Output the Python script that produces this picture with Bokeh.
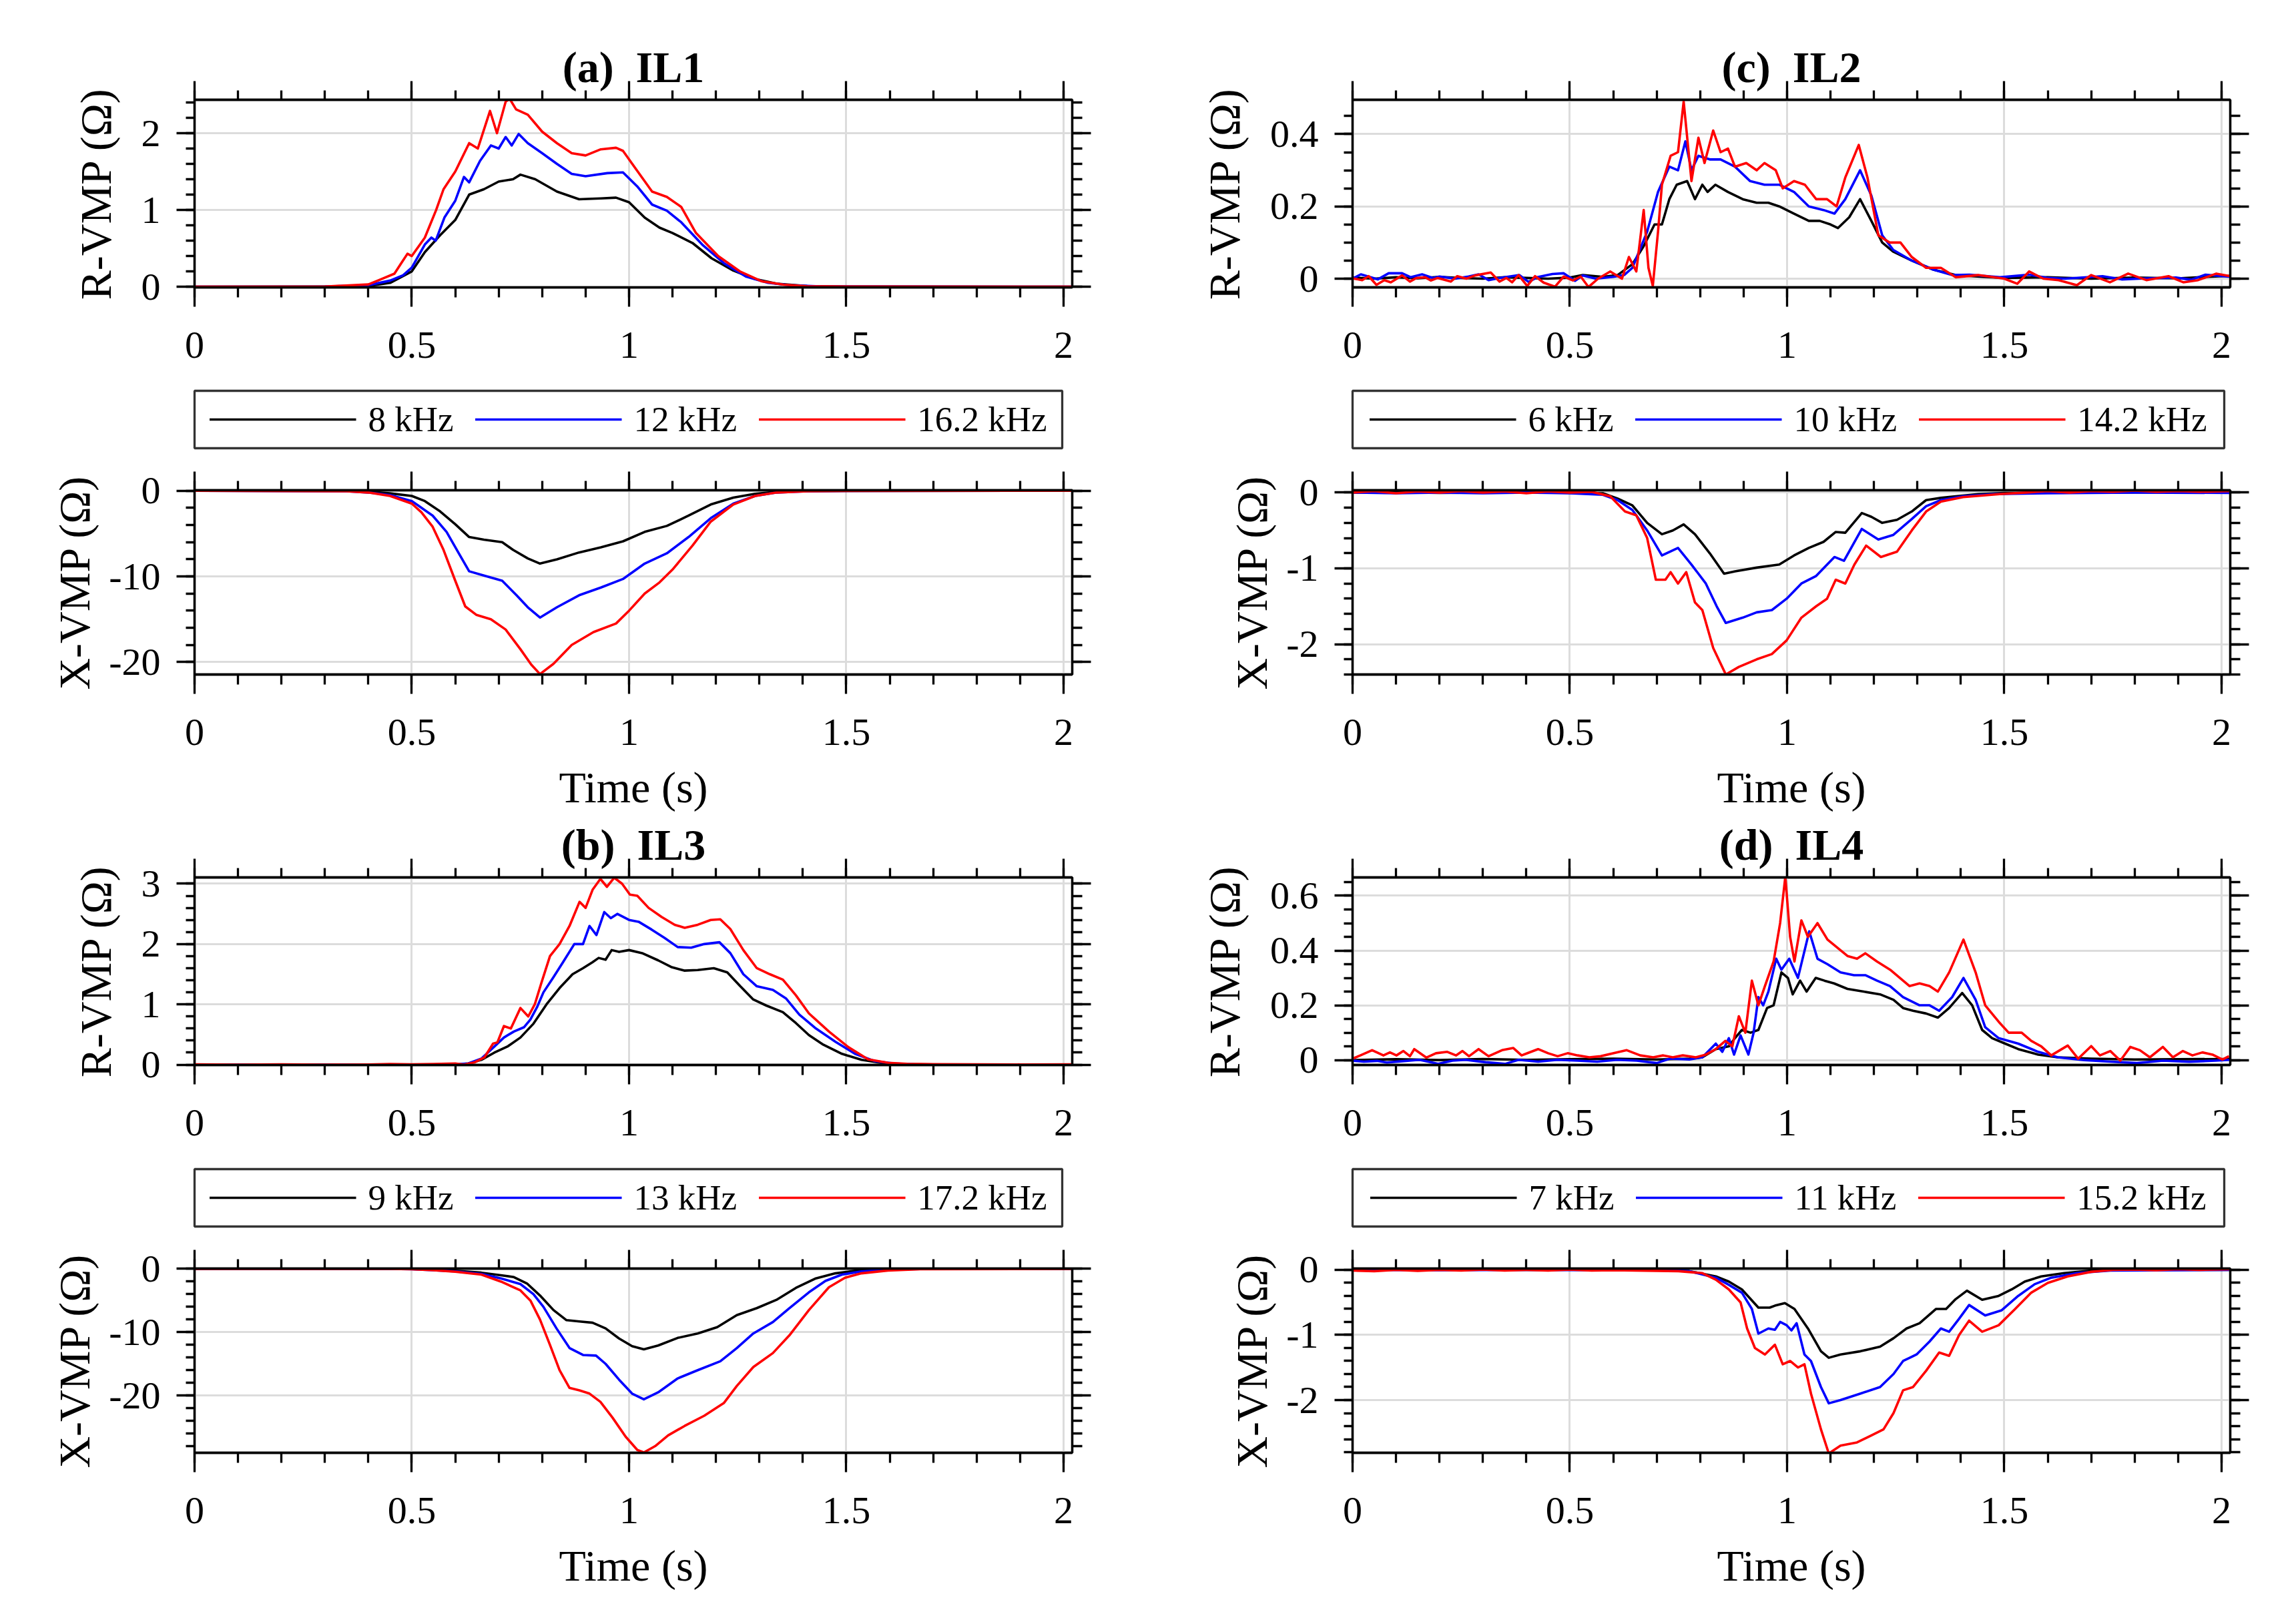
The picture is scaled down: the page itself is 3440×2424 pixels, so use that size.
from bokeh.plotting import figure
from bokeh.models import (Range1d, LinearAxis, SingleIntervalTicker, CustomJSTickFormatter,
                          Legend, LegendItem, Grid)
from bokeh.layouts import column, row
from bokeh.core.properties import value
from bokeh.embed import file_html
from bokeh.resources import INLINE

# ---------------- data ----------------
titles = ["(a) \u00a0IL1", "(c) \u00a0IL2", "(b) \u00a0IL3", "(d) \u00a0IL4"]
legend_a = ["8 kHz", "12 kHz", "16.2 kHz"]
legend_c = ["6 kHz", "10 kHz", "14.2 kHz"]
legend_b = ["9 kHz", "13 kHz", "17.2 kHz"]
legend_d = ["7 kHz", "11 kHz", "15.2 kHz"]
r_label = "R-VMP (\u03a9)"
x_label = "X-VMP (\u03a9)"
time_label = "Time (s)"

# panel (a) IL1, R
aR_k_t = [0, 0.3, 0.4, 0.45, 0.5, 0.53, 0.565, 0.6, 0.632, 0.666, 0.7, 0.733, 0.75, 0.784, 0.834, 0.885, 0.935, 0.97, 1.0, 1.036, 1.07, 1.1, 1.146, 1.19, 1.24, 1.29, 1.34, 1.41, 1.5, 2.02]
aR_k_v = [0, 0.002, 0.01, 0.05, 0.2, 0.45, 0.67, 0.87, 1.2, 1.27, 1.37, 1.4, 1.46, 1.4, 1.24, 1.14, 1.15, 1.16, 1.1, 0.9, 0.77, 0.7, 0.57, 0.37, 0.21, 0.1, 0.04, 0.01, 0.002, 0]
aR_b_t = [0, 0.3, 0.4, 0.45, 0.48, 0.5, 0.53, 0.545, 0.555, 0.575, 0.6, 0.62, 0.632, 0.657, 0.682, 0.7, 0.716, 0.73, 0.746, 0.767, 0.8, 0.834, 0.868, 0.9, 0.95, 0.986, 1.02, 1.053, 1.087, 1.12, 1.17, 1.22, 1.27, 1.32, 1.37, 1.44, 1.5, 2.02]
aR_b_v = [0, 0.003, 0.02, 0.08, 0.15, 0.25, 0.55, 0.64, 0.6, 0.9, 1.12, 1.43, 1.36, 1.64, 1.84, 1.8, 1.95, 1.84, 1.99, 1.87, 1.74, 1.6, 1.47, 1.44, 1.48, 1.49, 1.3, 1.07, 0.99, 0.84, 0.54, 0.3, 0.13, 0.05, 0.02, 0.005, 0.002, 0]
aR_r_t = [0, 0.3, 0.4, 0.43, 0.46, 0.475, 0.49, 0.5, 0.53, 0.556, 0.573, 0.6, 0.632, 0.652, 0.68, 0.696, 0.716, 0.725, 0.74, 0.767, 0.8, 0.834, 0.868, 0.9, 0.935, 0.97, 0.986, 1.02, 1.053, 1.087, 1.12, 1.154, 1.205, 1.255, 1.306, 1.356, 1.407, 1.5, 2.02]
aR_r_v = [0, 0.003, 0.03, 0.1, 0.17, 0.3, 0.43, 0.4, 0.64, 1.0, 1.27, 1.5, 1.87, 1.8, 2.29, 2.0, 2.41, 2.45, 2.31, 2.24, 2.02, 1.87, 1.74, 1.71, 1.79, 1.81, 1.77, 1.5, 1.24, 1.17, 1.04, 0.70, 0.40, 0.2, 0.07, 0.027, 0.007, 0.002, 0]

# panel (a) IL1, X
aX_k_t = [0, 0.35, 0.4, 0.45, 0.5, 0.53, 0.565, 0.6, 0.632, 0.666, 0.708, 0.733, 0.767, 0.795, 0.834, 0.885, 0.935, 0.986, 1.036, 1.087, 1.137, 1.188, 1.24, 1.29, 1.34, 1.41, 1.5, 2.02]
aX_k_v = [0, -0.02, -0.1, -0.3, -0.6, -1.2, -2.4, -3.9, -5.4, -5.7, -6.0, -6.9, -7.9, -8.5, -8.0, -7.2, -6.6, -5.9, -4.8, -4.1, -2.9, -1.6, -0.8, -0.35, -0.12, -0.03, -0.005, 0]
aX_b_t = [0, 0.35, 0.4, 0.45, 0.5, 0.514, 0.548, 0.58, 0.607, 0.632, 0.666, 0.708, 0.741, 0.767, 0.795, 0.834, 0.885, 0.935, 0.986, 1.036, 1.087, 1.137, 1.188, 1.24, 1.29, 1.34, 1.41, 1.5, 2.02]
aX_b_v = [0, -0.05, -0.2, -0.5, -1.2, -1.7, -2.9, -4.8, -7.2, -9.4, -9.9, -10.5, -12.2, -13.6, -14.8, -13.6, -12.2, -11.3, -10.3, -8.5, -7.3, -5.4, -3.2, -1.5, -0.6, -0.2, -0.05, -0.01, 0]
aX_r_t = [0, 0.35, 0.4, 0.45, 0.5, 0.522, 0.548, 0.573, 0.6, 0.623, 0.649, 0.682, 0.716, 0.75, 0.775, 0.795, 0.826, 0.868, 0.918, 0.97, 1.0, 1.036, 1.07, 1.1, 1.146, 1.188, 1.24, 1.29, 1.34, 1.41, 1.5, 2.02]
aX_r_v = [0, -0.05, -0.2, -0.6, -1.5, -2.5, -4.2, -6.9, -10.5, -13.5, -14.5, -15.0, -16.2, -18.5, -20.3, -21.4, -20.2, -18.0, -16.5, -15.5, -14.0, -12.0, -10.7, -9.2, -6.4, -3.6, -1.6, -0.6, -0.2, -0.05, -0.01, 0]

# panel (c) IL2, R
cR_k_t = [0, 0.05, 0.1, 0.15, 0.2, 0.25, 0.3, 0.35, 0.4, 0.45, 0.5, 0.53, 0.576, 0.61, 0.644, 0.67, 0.695, 0.712, 0.729, 0.746, 0.77, 0.788, 0.805, 0.817, 0.835, 0.864, 0.898, 0.93, 0.957, 0.982, 1.016, 1.05, 1.075, 1.1, 1.117, 1.143, 1.168, 1.194, 1.219, 1.244, 1.287, 1.337, 1.388, 1.45, 1.5, 1.6, 1.7, 1.8, 1.9, 1.95, 2.02]
cR_k_v = [0.003, 0.0, 0.004, 0.001, 0.005, 0.002, 0.0, 0.004, 0.002, 0.0, 0.003, 0.01, 0.005, 0.01, 0.04, 0.09, 0.15, 0.15, 0.22, 0.26, 0.27, 0.22, 0.26, 0.24, 0.26, 0.24, 0.22, 0.21, 0.21, 0.2, 0.18, 0.16, 0.16, 0.15, 0.14, 0.17, 0.22, 0.16, 0.1, 0.075, 0.05, 0.025, 0.01, 0.005, 0.002, 0.004, 0.0, 0.003, 0.001, 0.004, 0.008]
cR_b_t = [0, 0.019, 0.058, 0.083, 0.114, 0.134, 0.16, 0.185, 0.2, 0.236, 0.267, 0.29, 0.313, 0.338, 0.384, 0.405, 0.425, 0.46, 0.486, 0.512, 0.53, 0.56, 0.6, 0.625, 0.644,
          0.678, 0.703, 0.729, 0.749, 0.766, 0.78, 0.796, 0.822, 0.847, 0.88, 0.915, 0.948, 0.982, 1.016, 1.05, 1.084, 1.109, 1.134, 1.168, 1.194, 1.219, 1.244, 1.287, 1.337, 1.38,
          1.42, 1.49, 1.557, 1.6, 1.64, 1.726, 1.77, 1.81, 1.895, 1.93, 1.963, 2.02]
cR_b_v = [0.0, 0.012, -0.002, 0.015, 0.015, 0.004, 0.012, 0.002, 0.006, 0.0, 0.006, 0.012, -0.004, 0.002, 0.01, -0.009, 0.004, 0.013, 0.015, -0.006, 0.009, 0.0, 0.005, 0.01, 0.03,
          0.13, 0.24, 0.31, 0.3, 0.38, 0.3, 0.34, 0.33, 0.33, 0.31, 0.27, 0.26, 0.26, 0.24, 0.2, 0.19, 0.18, 0.22, 0.3, 0.23, 0.12, 0.08, 0.05, 0.025, 0.01,
          0.011, 0.004, 0.011, 0.002, 0.0, 0.007, -0.002, 0.0, 0.003, -0.003, 0.011, 0.005]
cR_r_t = [0, 0.022, 0.037, 0.055, 0.073, 0.088, 0.114, 0.132, 0.147, 0.167, 0.18, 0.196, 0.226, 0.241, 0.262, 0.282, 0.318, 0.338, 0.354, 0.367, 0.382, 0.402, 0.42, 0.44, 0.466, 0.486, 0.507, 0.525, 0.543, 0.565, 0.593, 0.62, 0.636, 0.653, 0.67, 0.681, 0.691, 0.703,
          0.712, 0.732, 0.749, 0.762, 0.78, 0.796, 0.81, 0.83, 0.847, 0.864, 0.88, 0.906, 0.93, 0.948, 0.974, 0.99, 1.016, 1.041, 1.067, 1.092, 1.114, 1.134, 1.165, 1.185, 1.21, 1.236, 1.261, 1.287, 1.32, 1.354,
          1.388, 1.44, 1.5, 1.53, 1.557, 1.59, 1.625, 1.667, 1.7, 1.743, 1.785, 1.827, 1.878, 1.912, 1.946, 1.988, 2.02]
cR_r_v = [0.001, -0.004, 0.007, -0.017, -0.004, -0.01, 0.009, -0.008, 0.002, 0.004, -0.005, 0.002, -0.008, 0.007, 0.0, 0.009, 0.017, -0.008, 0.002, -0.01, 0.01, -0.02, 0.007, -0.011, -0.022, 0.006, -0.005, 0.006, -0.023, 0.0, 0.02, 0.0, 0.06, 0.02, 0.19, 0.03, -0.02, 0.13,
          0.26, 0.34, 0.35, 0.49, 0.27, 0.39, 0.32, 0.41, 0.35, 0.36, 0.31, 0.32, 0.3, 0.32, 0.3, 0.25, 0.27, 0.26, 0.22, 0.22, 0.2, 0.28, 0.37, 0.28, 0.12, 0.1, 0.1, 0.06, 0.03, 0.03,
          0.004, 0.01, 0.0, -0.014, 0.02, 0.0, -0.004, -0.018, 0.01, -0.01, 0.014, -0.004, 0.007, -0.01, -0.004, 0.014, 0.007]

# panel (c) IL2, X
cX_k_t = [0, 0.1, 0.2, 0.3, 0.4, 0.5, 0.576, 0.61, 0.644, 0.678, 0.712, 0.737, 0.762, 0.788, 0.822, 0.855, 0.88, 0.93, 0.982, 1.016, 1.05, 1.084, 1.112, 1.134, 1.172, 1.194, 1.219, 1.253, 1.287, 1.32, 1.354, 1.388, 1.44, 1.5, 1.7, 2.02]
cX_k_v = [0, 0.005, -0.005, 0.0, 0.005, -0.005, -0.01, -0.08, -0.17, -0.4, -0.55, -0.5, -0.42, -0.55, -0.8, -1.07, -1.04, -0.99, -0.95, -0.83, -0.73, -0.65, -0.52, -0.53, -0.27, -0.32, -0.4, -0.36, -0.25, -0.1, -0.07, -0.05, -0.02, -0.005, 0.0, 0.005]
cX_b_t = [0, 0.1, 0.2, 0.3, 0.4, 0.5, 0.576, 0.61, 0.644, 0.678, 0.712, 0.749, 0.78, 0.813, 0.838, 0.859, 0.898, 0.93, 0.965, 0.999, 1.033, 1.067, 1.109, 1.131, 1.172, 1.21, 1.244, 1.287, 1.32, 1.354, 1.405, 1.473, 1.6, 1.8, 2.02]
cX_b_v = [0, -0.01, 0.0, -0.01, 0.0, -0.01, -0.03, -0.1, -0.23, -0.5, -0.83, -0.73, -0.95, -1.2, -1.5, -1.72, -1.65, -1.58, -1.55, -1.4, -1.2, -1.1, -0.85, -0.9, -0.48, -0.62, -0.56, -0.35, -0.18, -0.1, -0.05, -0.02, -0.01, 0.0, -0.005]
cX_r_t = [0, 0.05, 0.1, 0.15, 0.2, 0.25, 0.3, 0.35, 0.4, 0.45, 0.5, 0.55, 0.593, 0.627, 0.653, 0.678, 0.698, 0.72, 0.732, 0.749, 0.768, 0.788, 0.805, 0.83, 0.859, 0.889, 0.93, 0.965, 0.999, 1.033, 1.067, 1.092, 1.112, 1.134, 1.155, 1.182, 1.216, 1.253, 1.287, 1.32, 1.354, 1.405, 1.489, 1.55, 1.6, 1.65, 1.7, 1.75, 1.8, 1.85, 1.9, 1.95, 2.02]
cX_r_v = [0, 0.02, -0.01, 0.015, 0.0, 0.02, 0.0, 0.015, -0.01, 0.015, 0.0, 0.01, -0.05, -0.25, -0.3, -0.6, -1.15, -1.15, -1.05, -1.2, -1.05, -1.45, -1.55, -2.05, -2.4, -2.3, -2.2, -2.13, -1.95, -1.65, -1.5, -1.4, -1.15, -1.2, -0.95, -0.7, -0.85, -0.78, -0.5, -0.25, -0.12, -0.06, -0.02, 0.0, 0.02, 0.0, 0.02, 0.01, 0.025, 0.01, 0.02, 0.01, 0.02]

# panel (b) IL3, R
bR_k_t = [0, 0.5, 0.6, 0.63, 0.66, 0.69, 0.72, 0.75, 0.78, 0.81, 0.84, 0.87, 0.894, 0.916, 0.93, 0.946, 0.96, 0.977, 1.0, 1.03, 1.067, 1.097, 1.127, 1.158, 1.195, 1.226, 1.256, 1.286, 1.316, 1.354, 1.384, 1.414, 1.445, 1.49, 1.535, 1.58, 1.626, 1.7, 2.02]
bR_k_v = [0, 0.0, 0.0, 0.02, 0.08, 0.2, 0.3, 0.45, 0.68, 1.0, 1.27, 1.5, 1.6, 1.7, 1.77, 1.74, 1.9, 1.87, 1.9, 1.85, 1.73, 1.62, 1.56, 1.57, 1.6, 1.53, 1.3, 1.08, 0.98, 0.87, 0.69, 0.49, 0.34, 0.18, 0.08, 0.03, 0.01, 0.002, 0]
bR_b_t = [0, 0.5, 0.6, 0.63, 0.66, 0.69, 0.712, 0.735, 0.758, 0.773, 0.788, 0.803, 0.826, 0.848, 0.874, 0.894, 0.909, 0.925, 0.943, 0.958, 0.973, 1.0, 1.022, 1.052, 1.082, 1.112, 1.143, 1.173, 1.208, 1.233, 1.263, 1.294, 1.331, 1.361, 1.392, 1.43, 1.475, 1.52, 1.565, 1.61, 1.656, 1.75, 2.02]
bR_b_v = [0, 0.0, 0.005, 0.02, 0.1, 0.3, 0.45, 0.55, 0.62, 0.75, 0.95, 1.2, 1.45, 1.7, 2.0, 2.0, 2.3, 2.15, 2.53, 2.43, 2.5, 2.4, 2.37, 2.24, 2.1, 1.95, 1.94, 2.0, 2.03, 1.85, 1.5, 1.3, 1.24, 1.1, 0.83, 0.6, 0.38, 0.18, 0.06, 0.02, 0.005, 0.001, 0]
bR_r_t = [0, 0.1, 0.2, 0.3, 0.4, 0.45, 0.5, 0.55, 0.6, 0.62, 0.645, 0.667, 0.687, 0.697, 0.712, 0.728, 0.75, 0.768, 0.783, 0.798, 0.818, 0.84, 0.863, 0.886, 0.9, 0.916, 0.934, 0.949, 0.966, 0.984, 1.002, 1.019, 1.045, 1.075, 1.105, 1.128, 1.158, 1.188, 1.21, 1.233, 1.263, 1.294, 1.324, 1.354, 1.384, 1.414, 1.46, 1.505, 1.55, 1.596, 1.64, 1.7, 1.8, 1.9, 2.02]
bR_r_v = [0.005, 0.0, 0.006, 0.0, 0.004, 0.01, 0.005, 0.012, 0.02, 0.0, 0.04, 0.12, 0.35, 0.37, 0.64, 0.6, 0.94, 0.8, 1.0, 1.35, 1.8, 2.0, 2.3, 2.7, 2.6, 2.9, 3.08, 2.95, 3.1, 3.0, 2.82, 2.8, 2.6, 2.45, 2.32, 2.27, 2.32, 2.4, 2.41, 2.25, 1.9, 1.6, 1.5, 1.41, 1.15, 0.85, 0.55, 0.29, 0.09, 0.03, 0.015, 0.008, 0.006, 0.004, 0.005]

# panel (b) IL3, X
bX_k_t = [0, 0.45, 0.5, 0.55, 0.6, 0.66, 0.705, 0.735, 0.765, 0.795, 0.826, 0.856, 0.886, 0.916, 0.946, 0.977, 1.007, 1.034, 1.067, 1.112, 1.158, 1.203, 1.248, 1.294, 1.339, 1.384, 1.43, 1.475, 1.52, 1.58, 1.64, 1.7, 2.02]
bX_k_v = [0, 0, -0.03, -0.1, -0.3, -0.6, -1.0, -1.3, -2.3, -4.2, -6.5, -8.1, -8.3, -8.5, -9.4, -11.0, -12.2, -12.7, -12.1, -10.9, -10.2, -9.2, -7.3, -6.2, -4.9, -3.0, -1.5, -0.7, -0.3, -0.1, -0.02, 0, 0]
bX_b_t = [0, 0.45, 0.5, 0.55, 0.6, 0.66, 0.705, 0.75, 0.78, 0.803, 0.833, 0.863, 0.894, 0.924, 0.946, 0.977, 1.007, 1.034, 1.067, 1.112, 1.158, 1.21, 1.248, 1.286, 1.331, 1.369, 1.414, 1.452, 1.49, 1.535, 1.596, 1.67, 2.02]
bX_b_v = [0, 0, -0.05, -0.2, -0.4, -0.8, -1.5, -2.4, -4.0, -6.0, -9.4, -12.5, -13.6, -13.7, -15.0, -17.5, -19.7, -20.6, -19.5, -17.3, -16.0, -14.6, -12.5, -10.2, -8.4, -6.2, -3.7, -1.9, -0.9, -0.4, -0.1, -0.02, 0]
bX_r_t = [0, 0.45, 0.5, 0.55, 0.6, 0.66, 0.705, 0.75, 0.773, 0.795, 0.818, 0.84, 0.863, 0.886, 0.909, 0.934, 0.962, 0.992, 1.019, 1.034, 1.06, 1.09, 1.128, 1.173, 1.218, 1.248, 1.286, 1.331, 1.369, 1.414, 1.46, 1.497, 1.535, 1.596, 1.67, 2.02]
bX_r_v = [0, 0, -0.05, -0.2, -0.45, -0.9, -2.0, -3.4, -5.0, -8.0, -12.0, -16.0, -18.8, -19.2, -19.7, -21.0, -23.5, -26.5, -28.6, -29.0, -28.0, -26.3, -24.8, -23.2, -21.2, -18.5, -15.5, -13.3, -10.5, -6.5, -2.9, -1.4, -0.7, -0.25, -0.05, 0]

# panel (d) IL4, R
dR_k_t = [0, 0.1, 0.2, 0.3, 0.4, 0.5, 0.6, 0.7, 0.775, 0.805, 0.836, 0.866, 0.88, 0.896, 0.916, 0.934, 0.954, 0.969, 0.987, 1.002, 1.013, 1.03, 1.045, 1.066, 1.086, 1.108, 1.139, 1.176, 1.214, 1.245, 1.267, 1.29, 1.32, 1.347, 1.373, 1.403, 1.426, 1.449, 1.472, 1.502, 1.532, 1.578, 1.623, 1.7, 1.8, 1.9, 2.02]
dR_k_v = [0.0, 0.003, 0.0, 0.004, 0.001, 0.003, 0.005, 0.002, 0.005, 0.01, 0.04, 0.05, 0.08, 0.11, 0.1, 0.11, 0.19, 0.2, 0.32, 0.3, 0.24, 0.29, 0.25, 0.3, 0.29, 0.28, 0.26, 0.25, 0.24, 0.22, 0.19, 0.18, 0.17, 0.155, 0.19, 0.245, 0.2, 0.11, 0.08, 0.06, 0.04, 0.02, 0.01, 0.005, 0.002, 0.003, 0.004]
dR_b_t = [0, 0.026, 0.056, 0.079, 0.109, 0.154, 0.197, 0.23, 0.26, 0.306, 0.351, 0.382, 0.427, 0.472, 0.518, 0.563, 0.609, 0.654, 0.7, 0.73, 0.775, 0.805,
          0.836, 0.851, 0.866, 0.878, 0.893, 0.911, 0.923, 0.934, 0.945, 0.957, 0.975, 0.987, 1.005, 1.025, 1.051, 1.07, 1.093, 1.123, 1.154, 1.18, 1.207, 1.237, 1.267, 1.305, 1.328, 1.35, 1.38, 1.406, 1.434, 1.456, 1.487, 1.532, 1.578, 1.623,
          1.684, 1.744, 1.805, 1.865, 1.926, 1.986, 2.02]
dR_b_v = [-0.002, -0.006, -0.003, -0.009, -0.005, 0.001, -0.014, -0.002, 0.001, -0.008, -0.014, 0.001, -0.006, 0.001, -0.002, -0.006, 0.001, -0.002, -0.011, 0.005, 0.002, 0.01,
          0.06, 0.03, 0.08, 0.02, 0.09, 0.02, 0.1, 0.23, 0.2, 0.25, 0.37, 0.33, 0.37, 0.3, 0.47, 0.37, 0.35, 0.32, 0.31, 0.31, 0.29, 0.27, 0.23, 0.2, 0.2, 0.18, 0.23, 0.3, 0.22, 0.12, 0.08, 0.06, 0.03, 0.01,
          0.0, -0.006, -0.011, -0.002, -0.006, -0.002, 0.001]
dR_r_t = [0, 0.018, 0.045, 0.071, 0.086, 0.101, 0.117, 0.132, 0.142, 0.17, 0.192, 0.218, 0.238, 0.253, 0.268, 0.29, 0.313, 0.344, 0.37, 0.389, 0.427, 0.45, 0.472, 0.495, 0.518, 0.545, 0.571, 0.601, 0.631, 0.662, 0.692, 0.715, 0.737, 0.76, 0.79, 0.813,
          0.836, 0.858, 0.874, 0.889, 0.904, 0.919, 0.934, 0.949, 0.969, 0.984, 0.996, 1.007, 1.017, 1.033, 1.048, 1.07, 1.093, 1.116, 1.139, 1.161, 1.18, 1.207, 1.237, 1.267, 1.282, 1.305, 1.328, 1.347, 1.373, 1.406, 1.434, 1.456, 1.487, 1.51, 1.54, 1.562, 1.585,
          1.608, 1.646, 1.67, 1.7, 1.72, 1.744, 1.767, 1.79, 1.812, 1.835, 1.865, 1.888, 1.911, 1.933, 1.956, 1.979, 2.002, 2.017]
dR_r_v = [0.005, 0.017, 0.036, 0.017, 0.028, 0.017, 0.033, 0.014, 0.04, 0.009, 0.025, 0.03, 0.017, 0.033, 0.014, 0.04, 0.014, 0.036, 0.044, 0.017, 0.04, 0.025, 0.014, 0.025, 0.017, 0.01, 0.014, 0.025, 0.036, 0.017, 0.01, 0.017, 0.01, 0.017, 0.01, 0.02,
          0.04, 0.07, 0.05, 0.16, 0.1, 0.29, 0.2, 0.27, 0.36, 0.5, 0.67, 0.45, 0.36, 0.51, 0.45, 0.5, 0.44, 0.41, 0.38, 0.37, 0.39, 0.36, 0.33, 0.29, 0.27, 0.28, 0.27, 0.25, 0.32, 0.44, 0.32, 0.2, 0.14, 0.1, 0.1, 0.07, 0.05,
          0.017, 0.053, 0.005, 0.051, 0.017, 0.033, -0.002, 0.048, 0.036, 0.01, 0.048, 0.01, 0.033, 0.017, 0.028, 0.02, 0.002, 0.014]

# panel (d) IL4, X
dX_k_t = [0, 0.2, 0.4, 0.6, 0.7, 0.775, 0.836, 0.866, 0.896, 0.934, 0.96, 0.972, 0.995, 1.017, 1.048, 1.078, 1.096, 1.123, 1.169, 1.214, 1.245, 1.275, 1.305, 1.343, 1.366, 1.388, 1.414, 1.449, 1.487, 1.517, 1.547, 1.585, 1.638, 1.7, 1.8, 2.02]
dX_k_v = [0, 0.005, 0.0, 0.003, 0.0, -0.02, -0.1, -0.18, -0.3, -0.58, -0.58, -0.55, -0.51, -0.6, -0.9, -1.25, -1.35, -1.3, -1.25, -1.18, -1.05, -0.9, -0.82, -0.6, -0.6, -0.45, -0.32, -0.46, -0.4, -0.3, -0.18, -0.1, -0.05, -0.01, 0, 0]
dX_b_t = [0, 0.2, 0.4, 0.6, 0.7, 0.775, 0.836, 0.866, 0.896, 0.919, 0.934, 0.957, 0.972, 0.984, 0.999, 1.01, 1.022, 1.04, 1.055, 1.078, 1.096, 1.123, 1.169, 1.214, 1.245, 1.267, 1.298, 1.328, 1.354, 1.373, 1.396, 1.419, 1.456, 1.494, 1.532, 1.57, 1.608, 1.668, 1.744, 2.02]
dX_b_v = [0, -0.005, 0.0, -0.005, 0.0, -0.02, -0.12, -0.23, -0.35, -0.6, -0.98, -0.9, -0.92, -0.8, -0.85, -0.93, -0.82, -1.3, -1.4, -1.8, -2.05, -2.0, -1.9, -1.8, -1.6, -1.4, -1.3, -1.1, -0.9, -0.95, -0.75, -0.54, -0.7, -0.62, -0.4, -0.22, -0.12, -0.05, -0.01, 0]
dX_r_t = [0, 0.05, 0.1, 0.15, 0.2, 0.25, 0.3, 0.35, 0.4, 0.45, 0.5, 0.55, 0.6, 0.65, 0.7, 0.75, 0.805, 0.836, 0.866, 0.893, 0.908, 0.926, 0.949, 0.972, 0.99, 1.007, 1.025, 1.04, 1.055, 1.078, 1.096, 1.123, 1.161, 1.192, 1.222, 1.245, 1.267, 1.29, 1.32, 1.35, 1.373, 1.396, 1.419, 1.449, 1.487, 1.525, 1.562, 1.6, 1.646, 1.7, 1.75, 1.8, 1.85, 1.9, 1.95, 2.02]
dX_r_v = [-0.01, -0.02, 0.0, -0.015, 0.0, -0.01, 0.005, -0.01, 0.0, -0.01, 0.005, -0.01, -0.005, -0.01, -0.015, -0.02, -0.05, -0.15, -0.3, -0.5, -0.9, -1.2, -1.3, -1.15, -1.45, -1.4, -1.5, -1.45, -1.9, -2.45, -2.82, -2.7, -2.65, -2.55, -2.45, -2.2, -1.85, -1.8, -1.55, -1.27, -1.32, -1.0, -0.78, -0.95, -0.85, -0.6, -0.35, -0.2, -0.1, -0.03, 0.0, 0.005, -0.005, 0.01, 0.0, 0.01]

# ---------------- styling ----------------
FONT = "Liberation Serif"
COLORS = ["#000000", "#0000ff", "#ff0000"]
FW = 1315          # frame width of every panel
RH = 281           # frame height of R panels
XH = 276           # frame height of X panels
FRAME_LW = 3.3
DATA_LW = 3.6
GRID_COLOR = "#dcdcdc"

num_fmt = "return (Math.round(tick*1000)/1000).toString();"


def base_axis(ticker, major_out, minor_out):
    ax = LinearAxis(ticker=ticker)
    ax.axis_line_width = FRAME_LW
    ax.axis_line_color = "black"
    ax.major_tick_line_width = FRAME_LW
    ax.minor_tick_line_width = FRAME_LW
    ax.major_tick_line_color = "black"
    ax.minor_tick_line_color = "black"
    ax.major_tick_in = 0
    ax.minor_tick_in = 0
    ax.major_tick_out = major_out
    ax.minor_tick_out = minor_out
    return ax


def labelled(ax, standoff):
    ax.formatter = CustomJSTickFormatter(code=num_fmt)
    ax.major_label_text_font = FONT
    ax.major_label_text_font_size = "58px"
    ax.major_label_text_color = "black"
    ax.major_label_standoff = standoff
    return ax


def unlabelled(ax):
    ax.formatter = CustomJSTickFormatter(code="return '';")
    ax.major_label_text_font_size = "1px"
    ax.major_label_standoff = 0
    return ax


def axis_title(ax, text, standoff, bold=False):
    ax.axis_label = text
    ax.axis_label_text_font = FONT
    ax.axis_label_text_font_size = "66px"
    ax.axis_label_text_font_style = "bold" if bold else "normal"
    ax.axis_label_text_color = "black"
    ax.axis_label_standoff = standoff
    return ax


def make_panel(series, fh, ylo, yhi, ymajor, yminor, ylabel, ylabel_standoff,
               bl, br, bt, bb, title=None, xlabel=None):
    p = figure(frame_width=FW, frame_height=fh,
               x_range=Range1d(0, 2.02), y_range=Range1d(ylo, yhi),
               x_axis_type=None, y_axis_type=None,
               output_backend="svg", toolbar_location=None,
               min_border_left=bl, min_border_right=br,
               min_border_top=bt, min_border_bottom=bb)
    p.outline_line_color = "black"
    p.outline_line_width = FRAME_LW
    p.background_fill_color = "white"
    p.border_fill_color = "white"
    xt = SingleIntervalTicker(interval=0.5, num_minor_ticks=5)
    yt = SingleIntervalTicker(interval=ymajor, num_minor_ticks=yminor)
    p.add_layout(Grid(dimension=0, ticker=xt, grid_line_color=GRID_COLOR, grid_line_width=3))
    p.add_layout(Grid(dimension=1, ticker=yt, grid_line_color=GRID_COLOR, grid_line_width=3))
    for (t, v), c in zip(series, COLORS):
        assert len(t) == len(v), (title, ylabel, c, len(t), len(v))
        p.line(t, v, line_color=c, line_width=DATA_LW, line_join="round")

    left = axis_title(labelled(base_axis(yt, 27, 13), 24), ylabel, ylabel_standoff)
    p.add_layout(left, "left")
    p.add_layout(unlabelled(base_axis(yt, 28, 15)), "right")
    bottom = labelled(base_axis(xt, 29, 15), 38)
    if xlabel:
        axis_title(bottom, xlabel, 24)
    p.add_layout(bottom, "below")
    top = unlabelled(base_axis(xt, 28, 14))
    if title:
        axis_title(top, title, -15, bold=True)
    p.add_layout(top, "above")
    return p


def make_legend(labels, fw, bl, br):
    p = figure(frame_width=fw, frame_height=86,
               x_range=Range1d(0, 1), y_range=Range1d(0, 1),
               x_axis_type=None, y_axis_type=None,
               output_backend="svg", toolbar_location=None,
               min_border_left=bl, min_border_right=br,
               min_border_top=17, min_border_bottom=22)
    p.outline_line_color = "#333333"
    p.outline_line_width = FRAME_LW
    p.border_fill_color = "white"
    # legend proxies: kept outside the visible 0..1 range, only their legend glyph shows
    rs = [p.line(x=[5, 6], y=[5, 6], line_color=c, line_width=DATA_LW) for c in COLORS]
    leg = Legend(items=[LegendItem(label=value(l), renderers=[r]) for l, r in zip(labels, rs)],
                 location="center", orientation="horizontal",
                 glyph_width=220, glyph_height=40, label_standoff=18, spacing=32,
                 padding=0, margin=0, border_line_alpha=0, background_fill_alpha=0,
                 label_text_font=FONT, label_text_font_size="53px", label_text_color="black")
    p.add_layout(leg, "center")
    return p


# left column 0..1720 (frame 291..1606), right column 1720..3440 (frame 2026..3341)
L_BL, L_BR = 291, 114
R_BL, R_BR = 306, 99
RS, XS = 29, 12     # y axis-label standoffs for R and X panels

pa_R = make_panel([(aR_k_t, aR_k_v), (aR_b_t, aR_b_v), (aR_r_t, aR_r_v)], RH, -0.008, 2.435, 1, 5, r_label, RS,
                  L_BL, L_BR, 149, 138, title=titles[0])
pa_L = make_legend(legend_a, 1300, 291, 129)
pa_X = make_panel([(aX_k_t, aX_k_v), (aX_b_t, aX_b_v), (aX_r_t, aX_r_v)], XH, -21.45, 0.06, 10, 5, x_label, XS,
                  L_BL, L_BR, 41, 212, xlabel=time_label)
pb_R = make_panel([(bR_k_t, bR_k_v), (bR_b_t, bR_b_v), (bR_r_t, bR_r_v)], RH, -0.005, 3.105, 1, 5, r_label, RS,
                  L_BL, L_BR, 92, 139, title=titles[2])
pb_L = make_legend(legend_b, 1300, 291, 129)
pb_X = make_panel([(bX_k_t, bX_k_v), (bX_b_t, bX_b_v), (bX_r_t, bX_r_v)], XH, -29.05, 0.05, 10, 5, x_label, XS,
                  L_BL, L_BR, 41, 212, xlabel=time_label)

pc_R = make_panel([(cR_k_t, cR_k_v), (cR_b_t, cR_b_v), (cR_r_t, cR_r_v)], RH, -0.024, 0.495, 0.2, 4, r_label, RS,
                  R_BL, R_BR, 149, 138, title=titles[1])
pc_L = make_legend(legend_c, 1306, 306, 108)
pc_X = make_panel([(cX_k_t, cX_k_v), (cX_b_t, cX_b_v), (cX_r_t, cX_r_v)], XH, -2.4, 0.03, 1, 5, x_label, XS,
                  R_BL, R_BR, 41, 212, xlabel=time_label)
pd_R = make_panel([(dR_k_t, dR_k_v), (dR_b_t, dR_b_v), (dR_r_t, dR_r_v)], RH, -0.018, 0.667, 0.2, 4, r_label, RS,
                  R_BL, R_BR, 92, 139, title=titles[3])
pd_L = make_legend(legend_d, 1306, 306, 108)
pd_X = make_panel([(dX_k_t, dX_k_v), (dX_b_t, dX_b_v), (dX_r_t, dX_r_v)], XH, -2.81, 0.02, 1, 5, x_label, XS,
                  R_BL, R_BR, 41, 212, xlabel=time_label)

left = column(pa_R, pa_L, pa_X, pb_R, pb_L, pb_X, spacing=0)
right = column(pc_R, pc_L, pc_X, pd_R, pd_L, pd_X, spacing=0)
layout = row(left, right, spacing=0)

open("out.html", "w").write(file_html(layout, INLINE))
